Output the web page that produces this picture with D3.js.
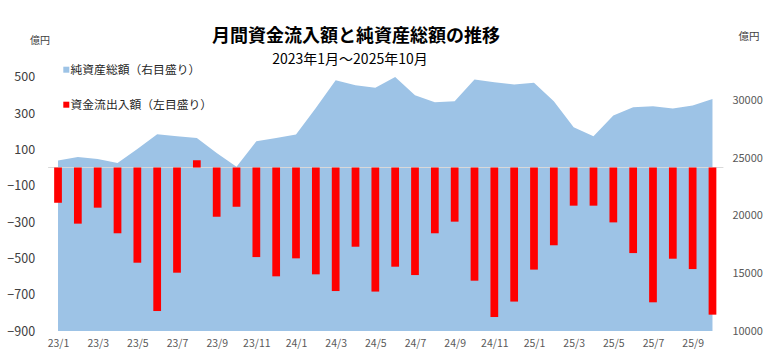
<!DOCTYPE html>
<html><head><meta charset="utf-8">
<script src="https://cdn.jsdelivr.net/npm/d3@7"></script>
<style>
html,body{margin:0;padding:0;background:#fff;}
svg{display:block;font-family:"Noto Sans CJK JP","Noto Sans",sans-serif;}
</style></head>
<body>
<svg id="chart" width="777" height="359"></svg>
<script>
const categories = ["23/1","23/2","23/3","23/4","23/5","23/6","23/7","23/8","23/9","23/10","23/11","23/12",
  "24/1","24/2","24/3","24/4","24/5","24/6","24/7","24/8","24/9","24/10","24/11","24/12",
  "25/1","25/2","25/3","25/4","25/5","25/6","25/7","25/8","25/9","25/10"];
const flows = [-194,-309,-221,-362,-524,-790,-579,40,-271,-216,-493,-599,
  -500,-588,-680,-436,-683,-546,-592,-362,-298,-623,-823,-738,
  -562,-428,-210,-210,-302,-471,-742,-502,-559,-810];
const netAssets = [24760,25060,24880,24540,25750,27020,26840,26700,25400,24200,26410,26700,
  26990,29300,31700,31260,31040,31980,30400,29790,29880,31760,31520,31320,
  31470,29880,27620,26840,28640,29360,29440,29240,29500,30080];
const leftTicks = [-900,-700,-500,-300,-100,100,300,500];
const rightTicks = [10000,15000,20000,25000,30000];
const xTickLabels = categories.filter((d,i)=>i%2===0);
const title = "月間資金流入額と純資産総額の推移";
const subtitle = "2023年1月～2025年10月";
const legendLabels = ["純資産総額（右目盛り）","資金流出入額（左目盛り）"];

const svg = d3.select("#chart");
const plotL = 48.1, plotR = 722.4, plotT = 76.7, plotB = 331;
const x = d3.scalePoint().domain(categories).range([plotL, plotR]).padding(0.5);
const yL = d3.scaleLinear().domain([-900,500]).range([plotB, plotT]);
const yR = d3.scaleLinear().domain([10000,32000]).range([plotB, plotT]);
const barW = x.step()*0.39;

// area
const area = d3.area().x(d=>x(d.c)).y0(yR(10000)).y1(d=>yR(d.v));
svg.append("path")
  .datum(categories.map((c,i)=>({c, v: netAssets[i]})))
  .attr("d", area).attr("fill", "#9dc3e6");

// zero line
svg.append("line").attr("x1", plotL).attr("x2", plotR+1)
  .attr("y1", yL(0)).attr("y2", yL(0))
  .attr("stroke", "#d9d9d9").attr("stroke-width", 1);

// bars
svg.append("g").selectAll("rect").data(categories.map((c,i)=>({c, v: flows[i]})))
  .join("rect")
  .attr("x", d=>x(d.c)-barW/2).attr("width", barW)
  .attr("y", d=>yL(Math.max(0,d.v)))
  .attr("height", d=>Math.abs(yL(d.v)-yL(0)))
  .attr("fill", "#ff0000");

// axes
const gl = svg.append("g").attr("transform", `translate(${plotL},0)`)
  .call(d3.axisLeft(yL).tickValues(leftTicks).tickSize(0).tickPadding(13));
gl.select(".domain").remove();
gl.selectAll("text").attr("font-size", "12.5px").attr("fill", "#404040")
  .style("font-family", "'Noto Sans CJK JP','Noto Sans',sans-serif");

const gr = svg.append("g").attr("transform", `translate(${plotR},0)`)
  .call(d3.axisRight(yR).tickValues(rightTicks).tickSize(0).tickPadding(10).tickFormat(d3.format("d")));
gr.select(".domain").remove();
gr.selectAll("text").attr("font-size", "11px").attr("fill", "#595959")
  .style("font-family", "'Noto Sans CJK JP','Noto Sans',sans-serif");

const gb = svg.append("g").attr("transform", `translate(0,${plotB})`)
  .call(d3.axisBottom(x).tickValues(xTickLabels).tickSize(0).tickPadding(9));
gb.select(".domain").remove();
gb.selectAll("text").attr("font-size", "10.5px").attr("fill", "#595959")
  .style("font-family", "'Noto Sans CJK JP','Noto Sans',sans-serif");

// units
svg.append("text").attr("x", 40).attr("y", 44).attr("text-anchor","middle")
  .attr("font-size","10px").attr("fill","#404040").text("億円");
svg.append("text").attr("x", 749).attr("y", 40).attr("text-anchor","middle")
  .attr("font-size","10.5px").attr("fill","#404040").text("億円");

// titles
svg.append("text").attr("x", 356).attr("y", 42).attr("text-anchor","middle")
  .attr("font-size","18px").attr("font-weight","bold").attr("fill","#000").text(title);
svg.append("text").attr("x", 350).attr("y", 64).attr("text-anchor","middle")
  .attr("font-size","14px").attr("fill","#000").text(subtitle);

// legend
const legColors = ["#9dc3e6","#ff0000"];
const legY = [70, 105];
legendLabels.forEach((t,i)=>{
  svg.append("rect").attr("x", 63.3).attr("y", legY[i]-3.3).attr("width",6).attr("height",6).attr("fill",legColors[i]);
  svg.append("text").attr("x", 70.5).attr("y", legY[i]).attr("dy","0.35em")
    .attr("font-size","11.8px").attr("fill","#262626").text(t);
});
</script>
</body></html>
